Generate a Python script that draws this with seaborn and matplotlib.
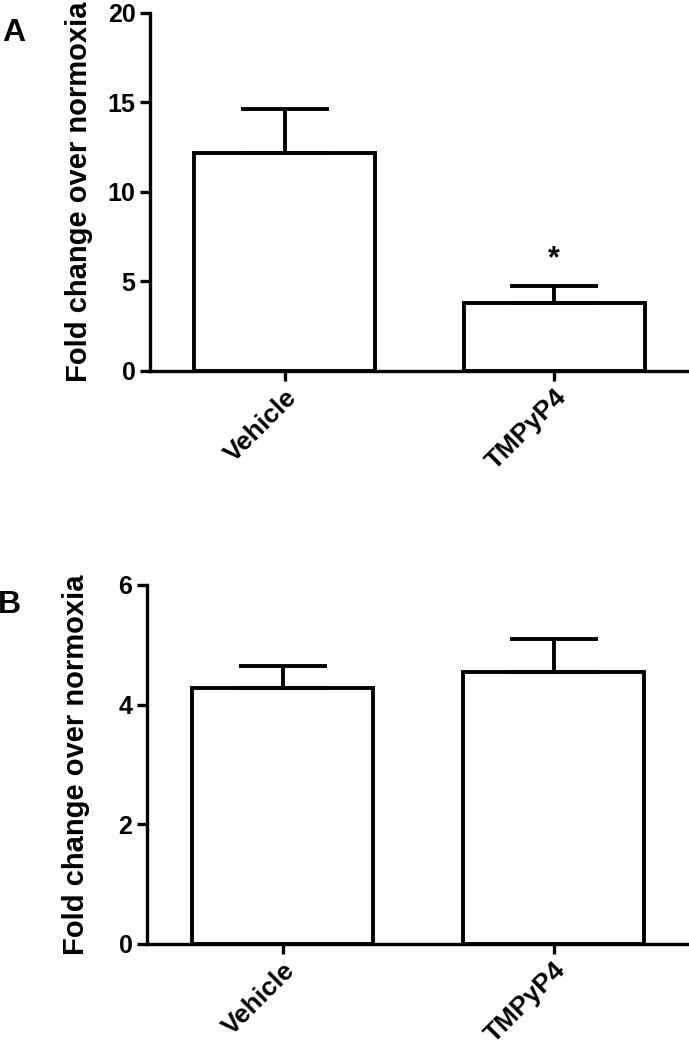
import numpy as np
import pandas as pd
import seaborn as sns
import matplotlib.pyplot as plt

sns.set_theme(style='ticks')
plt.rcParams['font.family'] = ['Liberation Sans', 'DejaVu Sans']
plt.rcParams['font.weight'] = 'bold'
plt.rcParams['text.color'] = 'black'
plt.rcParams['axes.labelcolor'] = 'black'
plt.rcParams['xtick.color'] = 'black'
plt.rcParams['ytick.color'] = 'black'

groups = ['Vehicle', 'TMPyP4']

# panel A
means_a = [12.2, 3.78]
sem_a = [2.45, 0.97]
yticks_a = [0, 5, 10, 15, 20]

# panel B
means_b = [4.28, 4.54]
sem_b = [0.36, 0.55]
yticks_b = [0, 2, 4, 6]

LW = 2.8


def draw_panel(ax, means, sems, yticks, letter, star=None):
    df = pd.DataFrame({'group': groups, 'value': means})
    sns.barplot(data=df, x='group', y='value', color='white', edgecolor='black',
                linewidth=LW, width=0.67, errorbar=None, saturation=1, ax=ax)
    x = np.arange(len(means))
    ax.errorbar(x, means, yerr=[np.zeros(len(sems)), sems], fmt='none',
                ecolor='black', elinewidth=LW, capsize=32, capthick=LW, zorder=3)
    if star is not None:
        top = means[star] + sems[star]
        ax.text(star, top + yticks[-1] * 0.075, '*', ha='center', va='center',
                fontsize=22, fontweight='bold', color='black')

    ax.set_xlim(-0.5, 1.5)
    ax.set_ylim(0, yticks[-1])
    ax.set_yticks(yticks)
    ax.set_xlabel('')
    ax.set_ylabel('Fold change over normoxia', fontsize=21, fontweight='bold',
                  color='black')
    ax.yaxis.set_label_coords(-0.105, 0.5)
    sns.despine(ax=ax)
    for s in ['left', 'bottom']:
        ax.spines[s].set_linewidth(2.4)
        ax.spines[s].set_color('black')
    ax.tick_params(axis='both', direction='out', length=7, width=2.4,
                   color='black', labelcolor='black', labelsize=18)
    ax.tick_params(axis='x', pad=3)
    for lbl in ax.get_xticklabels():
        lbl.set_rotation(45)
        lbl.set_ha('right')
        lbl.set_rotation_mode('anchor')
        lbl.set_fontsize(19)
        lbl.set_fontweight('bold')
    for lbl in ax.get_yticklabels():
        lbl.set_fontweight('bold')
    ax.text(-0.275, 0.985, letter, transform=ax.transAxes, fontsize=23,
            fontweight='bold', ha='left', va='top', color='black')


fig = plt.figure(figsize=(6.89, 10.5), dpi=100)
ax_a = fig.add_axes([0.2177, 0.6467, 0.7823, 0.341])
ax_b = fig.add_axes([0.2134, 0.101, 0.7866, 0.3419])

draw_panel(ax_a, means_a, sem_a, yticks_a, 'A', star=1)
draw_panel(ax_b, means_b, sem_b, yticks_b, 'B')

fig.savefig('out.png', dpi=100, facecolor='white')
